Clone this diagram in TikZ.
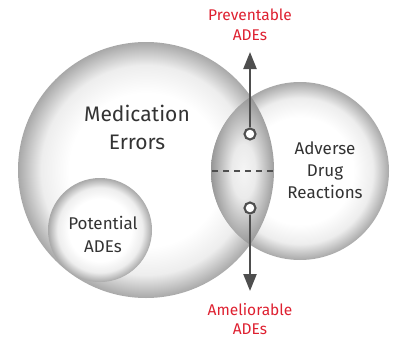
\documentclass[tikz,border=0pt]{standalone}
\usepackage{fontspec}
\setmainfont{Fira Sans}
\usetikzlibrary{arrows.meta}
\definecolor{ink}{RGB}{51,51,51}
\definecolor{rulegray}{RGB}{78,78,78}
\definecolor{alert}{RGB}{222,32,48}
% sphere-like fill: white core, grey rim
\pgfdeclareradialshading{orb}{\pgfpoint{0bp}{0bp}}{color(0bp)=(white); color(15bp)=(white); color(20.5bp)=(black!7); color(25bp)=(black!34); color(50bp)=(black!34)}
% darker fill for the overlap of the two large circles
\pgfdeclareradialshading{lensfill}{\pgfpoint{0bp}{0bp}}{color(0bp)=(black!4); color(9bp)=(black!8); color(25bp)=(black!42); color(50bp)=(black!42)}
\begin{document}
\begin{tikzpicture}[x=1pt,y=-1pt,
  orbnode/.style={circle, inner sep=0pt, shading=orb, minimum size=#1},
  ring/.style={circle, draw=rulegray, line width=2.1pt, fill=white, inner sep=0pt, minimum size=11pt},
  arrowline/.style={draw=rulegray, line width=2.3pt, -{Triangle[length=17pt,width=13pt]}},
  dashline/.style={draw=rulegray, line width=2.4pt, dash pattern=on 6pt off 5pt},
  label/.style={text=ink, align=center, inner sep=0pt},
  redlabel/.style={text=alert, align=center, inner sep=0pt, font=\fontsize{15.5}{19.5}\selectfont}]
\useasboundingbox (0,0) rectangle (393,340);

% the two large circles
\node[orbnode=256pt] (med) at (146,170) {};
\node[orbnode=178pt] (adr) at (300,171) {};

% overlap region
\begin{scope}
  \clip (146,170) circle (128pt);
  \clip (300,171) circle (89pt);
  \shade[shading=lensfill] (243.5,171) ellipse (33pt and 76pt);
\end{scope}

% inner circle
\node[orbnode=104pt] (pot) at (100,230) {};

% split of the overlap
\coordinate (dl) at (212,171);
\coordinate (dr) at (275,171);
\draw[dashline] (dl) -- (dr);

% arrows out of the overlap
\coordinate (ptop) at (250,52);
\coordinate (pbot) at (250,291);
\node[ring] (pc) at (250,134) {};
\node[ring] (ac) at (250,208) {};
\draw[arrowline] (pc) -- (ptop);
\draw[arrowline] (ac) -- (pbot);

% labels
\node[label, font=\fontsize{21}{28}\selectfont] (medtxt) at (137,127.5) {Medication\\Errors};
\node[label, font=\fontsize{17}{22}\selectfont] (adrtxt) at (325,170) {Adverse\\Drug\\Reactions};
\node[label, font=\fontsize{17}{23}\selectfont] (pottxt) at (103,234) {Potential\\ADEs};
\node[redlabel] (prevtxt) at (250,25) {Preventable\\ADEs};
\node[redlabel] (ameltxt) at (250,319) {Ameliorable\\ADEs};
\end{tikzpicture}
\end{document}
